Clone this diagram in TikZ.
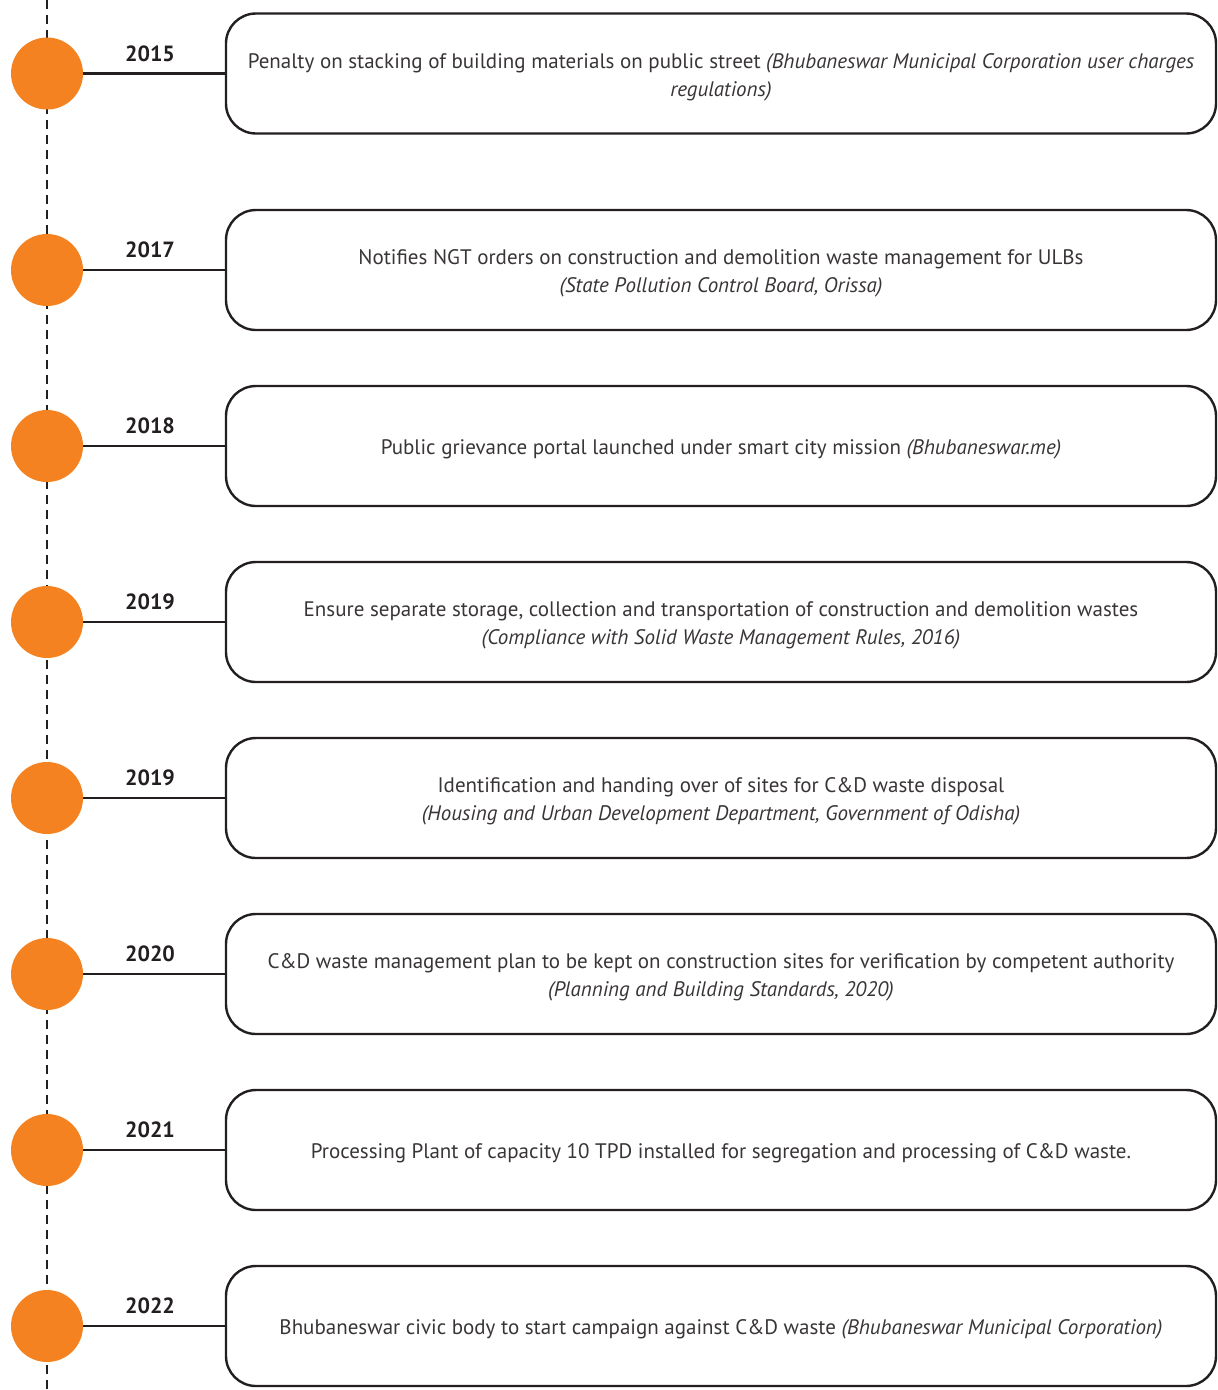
\documentclass[tikz,border=0pt]{standalone}
\usepackage{fontspec}
\setmainfont{PT Sans}
\definecolor{orng}{HTML}{F58220}
\definecolor{ink}{HTML}{231F20}
\newcommand\tlevent[4]{%
  \node[dot] (c#1) at (47,#2) {};
  \node[evbox] (b#1) at (721,#2) {\rule{0pt}{22pt}#4\rule[-5pt]{0pt}{5pt}};
  \draw[link] (c#1) -- (b#1);
  \node[yr] (y#1) at (150,#2-20) {#3};
}
\begin{document}
\begin{tikzpicture}[x=1pt,y=-1pt,
  dot/.style={circle, fill=orng, minimum size=72pt, inner sep=0pt},
  evbox/.style={draw=ink, line width=2.4pt, rounded corners=30pt,
    minimum width=990pt, minimum height=120pt, align=center, text=ink!90,
    font=\fontsize{21}{28}\selectfont, inner sep=0pt},
  yr/.style={font=\bfseries\fontsize{22}{26}\selectfont, text=ink},
  link/.style={draw=ink, line width=2.4pt}]
\useasboundingbox (0,0) rectangle (1218,1390);
\coordinate (top) at (47,0);
\coordinate (bot) at (47,1390);
\draw[ink, line width=2pt, dash pattern=on 9pt off 6pt] (top) -- (bot);
\tlevent{1}{73.5}{2015}{Penalty on stacking of building materials on public street \textit{(Bhubaneswar Municipal Corporation user charges}\\\textit{regulations)}}
\tlevent{2}{270}{2017}{Notifies NGT orders on construction and demolition waste management for ULBs\\\textit{(State Pollution Control Board, Orissa)}}
\tlevent{3}{446}{2018}{Public grievance portal launched under smart city mission \textit{(Bhubaneswar.me)}}
\tlevent{4}{622}{2019}{Ensure separate storage, collection and transportation of construction and demolition wastes\\\textit{(Compliance with Solid Waste Management Rules, 2016)}}
\tlevent{5}{798}{2019}{Identification and handing over of sites for C\&D waste disposal\\\textit{(Housing and Urban Development Department, Government of Odisha)}}
\tlevent{6}{974}{2020}{C\&D waste management plan to be kept on construction sites for verification by competent authority\\\textit{(Planning and Building Standards, 2020)}}
\tlevent{7}{1150}{2021}{Processing Plant of capacity 10 TPD installed for segregation and processing of C\&D waste.}
\tlevent{8}{1326}{2022}{Bhubaneswar civic body to start campaign against C\&D waste \textit{(Bhubaneswar Municipal Corporation)}}
\end{tikzpicture}
\end{document}
